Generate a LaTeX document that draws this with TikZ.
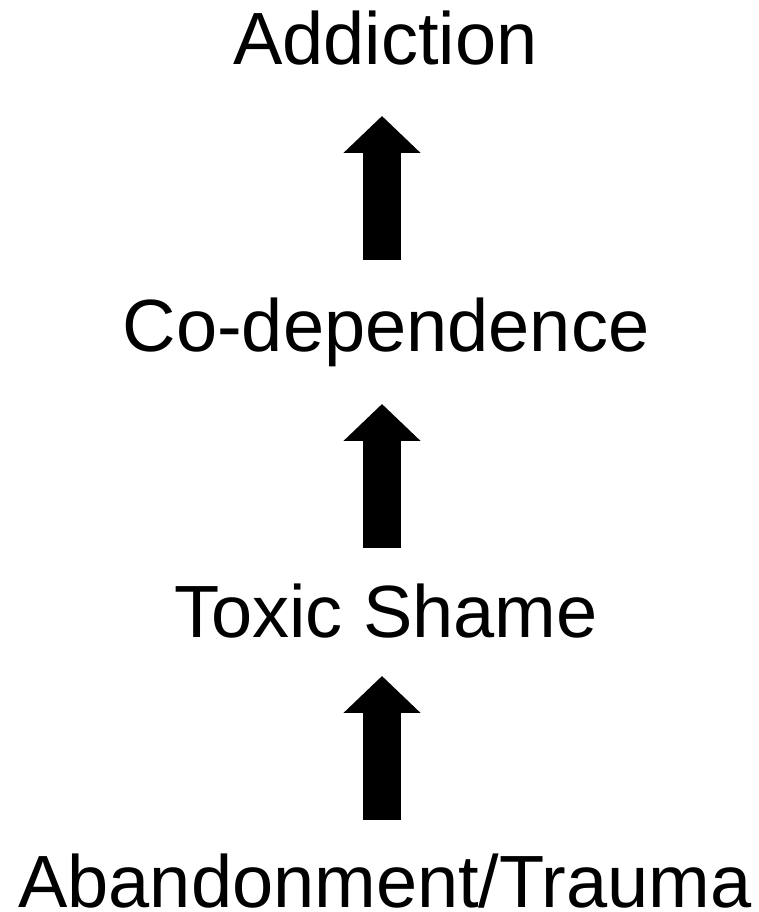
\documentclass[tikz,border=0pt]{standalone}
\usepackage{fontspec}
\setmainfont{Liberation Sans}
\usetikzlibrary{arrows.meta}
\begin{document}
\begin{tikzpicture}[x=1pt,y=1pt,
  lbl/.style={anchor=base,inner sep=0pt,font=\fontsize{74}{80}\selectfont},
  blockarrow/.style={line width=37.5pt,-{Triangle[width=75pt,length=37pt]}}]
\useasboundingbox (0,0) rectangle (759,912);
\node[lbl] (add) at (385.5,{912-65}) {Addiction};
\node[lbl] (cod) at (386,{912-352}) {Co-dependence};
\node[lbl] (tox) at (386,{912-638}) {Toxic Shame};
\node[lbl] (aba) at (385,{912-907}) {Abandonment/Trauma};
\coordinate (a1s) at (382,{912-260});
\coordinate (a1e) at (382,{912-116});
\coordinate (a2s) at (382,{912-548});
\coordinate (a2e) at (382,{912-404});
\coordinate (a3s) at (382,{912-820});
\coordinate (a3e) at (382,{912-676});
\draw[blockarrow] (a1s) -- (a1e);
\draw[blockarrow] (a2s) -- (a2e);
\draw[blockarrow] (a3s) -- (a3e);
\end{tikzpicture}
\end{document}
